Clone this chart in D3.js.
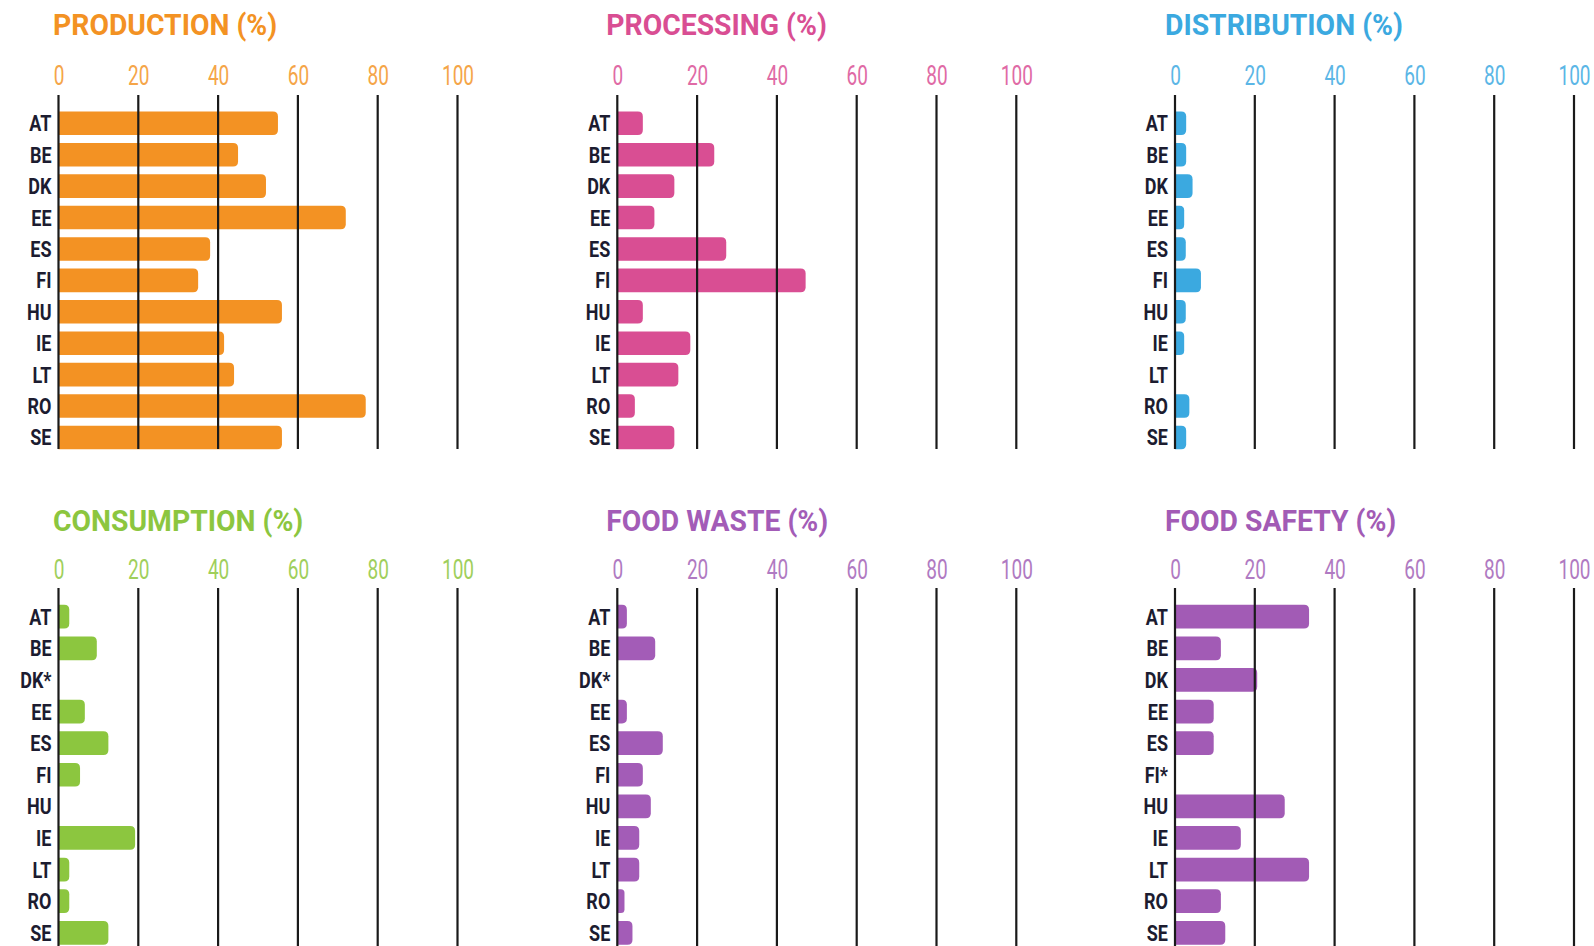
<!DOCTYPE html>
<html>
<head>
<meta charset="utf-8">
<script src="https://cdn.jsdelivr.net/npm/d3@7"></script>
<style>
  html, body { margin: 0; padding: 0; background: #ffffff; }
  svg { display: block; }
</style>
</head>
<body>
<svg id="chart" width="1594" height="946"></svg>
<script>
// ---- data ----
const ticks = [0, 20, 40, 60, 80, 100];

const productionLabels   = ["AT","BE","DK","EE","ES","FI","HU","IE","LT","RO","SE"];
const productionValues   = [55, 45, 52, 72, 38, 35, 56, 41.5, 44, 77, 56];

const processingLabels   = ["AT","BE","DK","EE","ES","FI","HU","IE","LT","RO","SE"];
const processingValues   = [6.4, 24.3, 14.3, 9.3, 27.3, 47.2, 6.4, 18.3, 15.3, 4.4, 14.3];

const distributionLabels = ["AT","BE","DK","EE","ES","FI","HU","IE","LT","RO","SE"];
const distributionValues = [2.8, 2.8, 4.4, 2.3, 2.7, 6.5, 2.7, 2.3, 0, 3.6, 2.8];

const consumptionLabels  = ["AT","BE","DK*","EE","ES","FI","HU","IE","LT","RO","SE"];
const consumptionValues  = [2.7, 9.6, 0, 6.6, 12.5, 5.4, 0, 19.2, 2.7, 2.7, 12.5];

const foodWasteLabels    = ["AT","BE","DK*","EE","ES","FI","HU","IE","LT","RO","SE"];
const foodWasteValues    = [2.4, 9.5, 0, 2.4, 11.4, 6.4, 8.4, 5.5, 5.5, 1.8, 3.8];

const foodSafetyLabels   = ["AT","BE","DK","EE","ES","FI*","HU","IE","LT","RO","SE"];
const foodSafetyValues   = [33.6, 11.5, 20.6, 9.7, 9.7, 0, 27.5, 16.5, 33.6, 11.5, 12.6];

const titles = ["PRODUCTION (%)", "PROCESSING (%)", "DISTRIBUTION (%)",
                "CONSUMPTION (%)", "FOOD WASTE (%)", "FOOD SAFETY (%)"];

// ---- styles / layout ----
const panels = [
  {title: titles[0], labels: productionLabels,   values: productionValues,   color: "#f39223", tickColor: "#f5a548", col: 0, row: 0},
  {title: titles[1], labels: processingLabels,   values: processingValues,   color: "#d94e93", tickColor: "#e06aa5", col: 1, row: 0},
  {title: titles[2], labels: distributionLabels, values: distributionValues, color: "#3ba9e0", tickColor: "#5bb6e6", col: 2, row: 0},
  {title: titles[3], labels: consumptionLabels,  values: consumptionValues,  color: "#8cc63f", tickColor: "#9fcf5c", col: 0, row: 1},
  {title: titles[4], labels: foodWasteLabels,    values: foodWasteValues,    color: "#a35cb7", tickColor: "#b07ac2", col: 1, row: 1},
  {title: titles[5], labels: foodSafetyLabels,   values: foodSafetyValues,   color: "#a25bb5", tickColor: "#b07ac2", col: 2, row: 1}
];

const colX0 = [58.5, 617.3, 1175];
const titleOffset = [-5.5, -11, -10];
const colW = 399;
const rows = [
  {titleY: 35, tickY: 85, gridTop: 95, gridBottom: 449, bandTop: 107.6, bandBottom: 453.2},
  {titleY: 531, tickY: 579, gridTop: 588, gridBottom: 946, bandTop: 600.9, bandBottom: 948.6}
];

const FONT = "Roboto, 'Liberation Sans', sans-serif";
const svg = d3.select("#chart");

function barPath(x0, x1, y, h, r) {
  const w = x1 - x0;
  if (w <= 0) return "";
  r = Math.min(r, w / 2, h / 2);
  return `M${x0},${y}H${x1 - r}Q${x1},${y} ${x1},${y + r}V${y + h - r}Q${x1},${y + h} ${x1 - r},${y + h}H${x0}Z`;
}

panels.forEach(p => {
  const R = rows[p.row];
  const x0 = colX0[p.col];
  const x = d3.scaleLinear().domain([0, 100]).range([x0, x0 + colW]);
  const y = d3.scaleBand().domain(p.labels).range([R.bandTop, R.bandBottom])
    .paddingInner(0.25).paddingOuter(0.125);

  const g = svg.append("g");

  // title
  g.append("text")
    .attr("transform", `translate(${x0 + titleOffset[p.col]},${R.titleY}) scale(0.96,1)`)
    .attr("fill", p.color)
    .style("font-family", FONT).style("font-weight", "bold")
    .style("font-size", "29.5px")
    .text(p.title);

  // tick labels via axis
  const axis = d3.axisTop(x).tickValues(ticks).tickSize(0).tickPadding(0);
  const ax = g.append("g").attr("transform", `translate(0,${R.tickY})`).call(axis);
  ax.select(".domain").remove();
  ax.selectAll("text")
    .attr("fill", p.tickColor)
    .attr("dy", 0)
    .attr("transform", "scale(0.68,1)")
    .style("font-family", FONT).style("font-size", "28px").style("font-weight", "400");

  // bars
  g.selectAll("path.bar").data(p.values).join("path")
    .attr("class", "bar")
    .attr("fill", p.color)
    .attr("d", (v, i) => barPath(x(0), x(v), y(p.labels[i]), y.bandwidth(), 5));

  // gridlines
  g.selectAll("line.grid").data(ticks).join("line")
    .attr("class", "grid")
    .attr("x1", d => x(d)).attr("x2", d => x(d))
    .attr("y1", R.gridTop).attr("y2", R.gridBottom)
    .attr("stroke", "#1a1a1a").attr("stroke-width", 2.2);

  // country labels
  g.selectAll("text.cat").data(p.labels).join("text")
    .attr("class", "cat")
    .attr("transform", d => `translate(${x(0) - 7},${y(d) + y.bandwidth() / 2 + 8}) scale(0.8,1)`)
    .attr("text-anchor", "end")
    .attr("fill", "#1c1c30")
    .style("font-family", FONT).style("font-weight", "bold")
    .style("font-size", "22.5px")
    .text(d => d);
});
</script>
</body>
</html>
